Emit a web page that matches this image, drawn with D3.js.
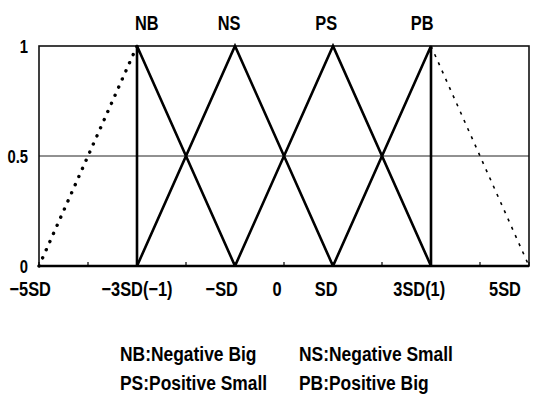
<!DOCTYPE html>
<meta charset="utf-8">
<head>
<script src="https://d3js.org/d3.v7.min.js"></script>
<style>
  body { margin: 0; background: #fff; }
  text { font-family: "Liberation Sans", Arial, sans-serif; font-weight: bold; fill: #000; }
</style>
</head>
<body>
<svg id="chart" width="543" height="398"></svg>
<script>
// membership functions, x in SD units, y = grade
var nbSolid  = [[-3, 0], [-3, 1], [-1, 0]];
var nbDotted = [[-5, 0], [-3, 1]];
var nsLine   = [[-3, 0], [-1, 1], [1, 0]];
var psLine   = [[-1, 0], [1, 1], [3, 0]];
var pbSolid  = [[1, 0], [3, 1], [3, 0]];
var pbDashed = [[3, 1], [5, 0]];

// set names drawn above the peaks (position in SD units)
var setNames = ["NB", "NS", "PS", "PB"];
var setNameAt = [-2.8, -1.12, 0.86, 2.82];

// x axis labels and where they sit
var xLabels = ["\u22125SD", "\u22123SD(\u22121)", "\u2212SD", "0", "SD", "3SD(1)", "5SD"];
var xLabelAt = [-5.18, -3.0, -1.27, -0.14, 0.86, 2.76, 4.51];
var minorTicks = [-5, -4, -3, -2, -1, 0, 1, 2, 3, 4, 5];

var yTicks = [0, 0.5, 1];
var yLabels = ["0", "0.5", "1"];

var legendRows = [
  ["NB:Negative Big", "NS:Negative Small"],
  ["PS:Positive Small", "PB:Positive Big"]
];

var svg = d3.select("#chart");
var margin = {left: 39, top: 46, right: 14, bottom: 132};
var W = 543, H = 398;

var x = d3.scaleLinear().domain([-5, 5]).range([margin.left, W - margin.right]);
var y = d3.scaleLinear().domain([0, 1]).range([H - margin.bottom, margin.top]);

var line = d3.line().x(function(d){ return x(d[0]); }).y(function(d){ return y(d[1]); });

// narrow look of the original lettering: squeeze text horizontally
function label(px, py, txt, size, anchor, sq){
  svg.append("text")
    .attr("transform", "translate(" + px + "," + py + ") scale(" + (sq || 0.78) + ",1)")
    .attr("text-anchor", anchor || "start")
    .style("font-size", size + "px")
    .text(txt);
}

// 0.5 grid line
svg.append("line")
  .attr("x1", x(-5)).attr("x2", x(5))
  .attr("y1", y(0.5)).attr("y2", y(0.5))
  .attr("stroke", "#222").attr("stroke-width", 1);

// frame
svg.append("rect")
  .attr("x", x(-5)).attr("y", y(1))
  .attr("width", x(5) - x(-5)).attr("height", y(0) - y(1))
  .attr("fill", "none").attr("stroke", "#111").attr("stroke-width", 1.6);
svg.append("line")
  .attr("x1", x(-5)).attr("x2", x(5))
  .attr("y1", y(0)).attr("y2", y(0))
  .attr("stroke", "#000").attr("stroke-width", 2.4);

// small ticks along the bottom
svg.selectAll(".mt").data(minorTicks).enter().append("line")
  .attr("x1", function(d){ return x(d); }).attr("x2", function(d){ return x(d); })
  .attr("y1", y(0)).attr("y2", y(0) - 4)
  .attr("stroke", "#000").attr("stroke-width", 1.2);

// solid membership lines
[nbSolid, nsLine, psLine, pbSolid].forEach(function(pts){
  svg.append("path").datum(pts)
    .attr("d", line)
    .attr("fill", "none")
    .attr("stroke", "#000")
    .attr("stroke-width", 2.6)
    .attr("stroke-linejoin", "miter");
});

// dotted NB tail
svg.append("path").datum(nbDotted)
  .attr("d", line)
  .attr("fill", "none").attr("stroke", "#000")
  .attr("stroke-width", 3.4)
  .attr("stroke-linecap", "round")
  .attr("stroke-dasharray", "0.1 8.8");

// dashed PB tail
svg.append("path").datum(pbDashed)
  .attr("d", line)
  .attr("fill", "none").attr("stroke", "#000")
  .attr("stroke-width", 1.6)
  .attr("stroke-dasharray", "3 6");

// y labels
yTicks.forEach(function(d, i){ label(28, y(d) + 7, yLabels[i], 19, "end"); });

// x labels
xLabels.forEach(function(d, i){ label(x(xLabelAt[i]), 296, d, 21, "middle"); });

// set names on top
setNames.forEach(function(d, i){ label(x(setNameAt[i]), 30, d, 21, "middle"); });

// legend
var colX = [120, 299];
var rowY = [361, 390];
legendRows.forEach(function(row, r){
  row.forEach(function(t, c){ label(colX[c], rowY[r], t, 21, "start", 0.83); });
});
</script>
</body>
